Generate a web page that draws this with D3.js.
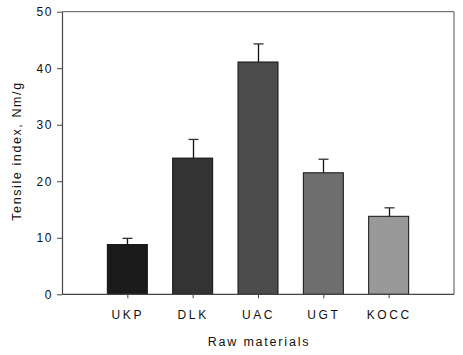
<!DOCTYPE html>
<html><head><meta charset="utf-8">
<script src="https://cdn.jsdelivr.net/npm/d3@7"></script>
<style>
body{margin:0;background:#fff;}
text{font-family:"Liberation Sans Narrow","Liberation Sans",Arial,sans-serif;fill:#111;}
</style></head>
<body><svg id="c" width="463" height="355"></svg>
<script>
const categories = ["UKP","DLK","UAC","UGT","KOCC"];
const values = [8.8, 24.1, 41.1, 21.5, 13.8];
const errors = [1.1, 3.3, 3.2, 2.4, 1.5];
const colors = ["#1b1b1b","#333333","#4c4c4c","#6e6e6e","#999999"];
const yTicks = [0,10,20,30,40,50];

const svg = d3.select("#c");
const L=62, R=454, T=11.7, B=294.3;
const x = d3.scalePoint().domain(categories).range([L,R]).padding(1);
const y = d3.scaleLinear().domain([0,50]).range([B,T]);
const bw = 40;

// frame
svg.append("line").attr("x1",L).attr("x2",R).attr("y1",T).attr("y2",T).attr("stroke","#555").attr("stroke-width",1);
svg.append("line").attr("x1",R).attr("x2",R).attr("y1",T).attr("y2",B).attr("stroke","#555").attr("stroke-width",1);

// error bars
const eg = svg.append("g");
categories.forEach((c,i)=>{
  const cx = Math.round(x(c))+0.5;
  eg.append("line").attr("x1",cx).attr("x2",cx).attr("y1",y(values[i])).attr("y2",y(values[i]+errors[i])).attr("stroke","#111").attr("stroke-width",1.3);
  eg.append("line").attr("x1",cx-5).attr("x2",cx+5).attr("y1",y(values[i]+errors[i])).attr("y2",y(values[i]+errors[i])).attr("stroke","#333").attr("stroke-width",1.3);
});

// bars
svg.append("g").selectAll("rect").data(categories).join("rect")
  .attr("x",d=>x(d)-bw/2).attr("width",bw)
  .attr("y",(d,i)=>y(values[i])).attr("height",(d,i)=>B-y(values[i]))
  .attr("fill",(d,i)=>colors[i]).attr("stroke","#111").attr("stroke-width",1);

// axes
const ya = svg.append("g").attr("transform",`translate(${L},0)`)
  .call(d3.axisLeft(y).tickValues(yTicks).tickSize(5).tickPadding(4).tickSizeOuter(0));
ya.select(".domain").attr("stroke","#444").attr("stroke-width",1.2);
ya.selectAll(".tick line").attr("stroke","#444");
ya.selectAll("text").style("font-size","12px").style("letter-spacing","1.6px").attr("fill","#111");

const xa = svg.append("g").attr("transform",`translate(0,${B})`)
  .call(d3.axisBottom(x).tickSize(4).tickPadding(12).tickSizeOuter(0));
xa.select(".domain").attr("stroke","#444").attr("stroke-width",1.2).attr("d",`M${L},0H${R}`);
xa.selectAll(".tick line").attr("stroke","#444");
xa.selectAll("text").style("font-size","12px").style("letter-spacing","2.6px").attr("fill","#111");

svg.append("text").attr("x",(L+R)/2+1).attr("y",346).attr("text-anchor","middle")
  .style("font-size","12.5px").style("letter-spacing","1.8px").text("Raw materials");
svg.append("text").attr("transform","translate(21,151) rotate(-90)").attr("text-anchor","middle")
  .style("font-size","12.5px").style("letter-spacing","1.6px").text("Tensile index, Nm/g");
</script></body></html>
